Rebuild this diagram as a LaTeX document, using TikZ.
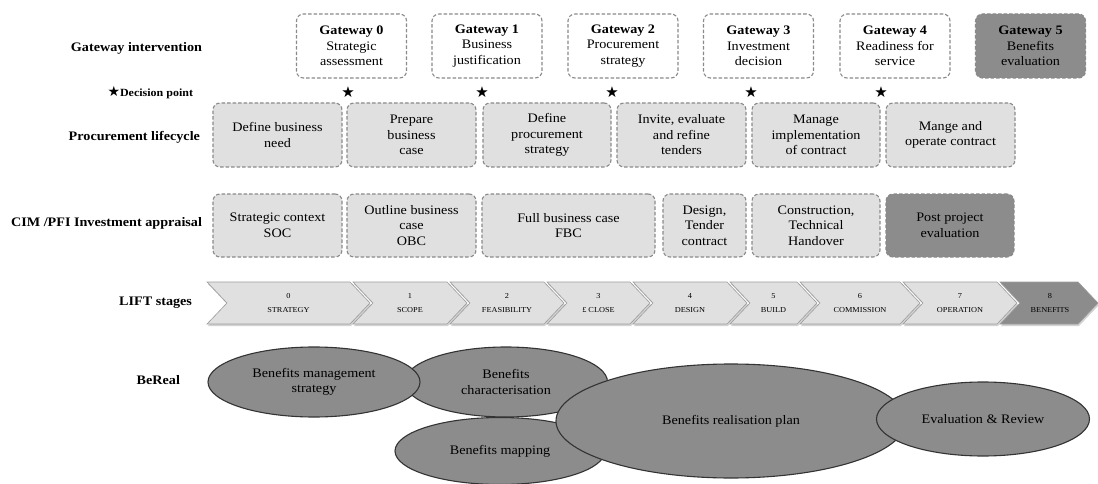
\documentclass[tikz,border=0pt]{standalone}
\usepackage{fontspec}
\setmainfont{Liberation Serif}[FakeStretch=1.09]
\newfontfamily\symfont{DejaVu Sans}
\usetikzlibrary{shapes.geometric,shadows}

\definecolor{lightfill}{HTML}{E0E0E0}
\definecolor{darkfill}{HTML}{8C8C8C}
\definecolor{dashgrey}{HTML}{8A8A8A}
\definecolor{ringline}{HTML}{333333}
\definecolor{chevline}{HTML}{9C9C9C}

\begin{document}
\begin{tikzpicture}[x=1pt,y=-1pt,
  every node/.style={inner sep=0pt, outer sep=0pt},
  txt/.style={font=\fontsize{13}{15.5}\selectfont, align=center},
  rowlabel/.style={font=\fontsize{13}{15.5}\selectfont\bfseries, anchor=east},
  stagebox/.style={txt, draw=dashgrey, line width=1.1pt, dash pattern=on 3.5pt off 2pt,
                   rounded corners=7pt},
  gatebox/.style={stagebox, fill=white, minimum width=110pt, minimum height=64pt},
  gatedark/.style={stagebox, fill=darkfill, minimum width=110pt, minimum height=64pt},
  procbox/.style={stagebox, fill=lightfill, minimum height=64pt},
  cimbox/.style={stagebox, fill=lightfill, minimum height=63pt},
  cimdark/.style={stagebox, fill=darkfill, minimum height=63pt},
  starmark/.style={font=\symfont\fontsize{15}{15}\selectfont},
  chev/.style={draw=chevline, line width=0.6pt, fill=lightfill,
               drop shadow={opacity=0.35, shadow xshift=1pt, shadow yshift=-2pt}},
  chevdark/.style={chev, fill=darkfill},
  chevtext/.style={font=\fontsize{7.6}{14}\selectfont, align=center},
  bubble/.style={txt, ellipse, draw=ringline, fill=darkfill, line width=1.1pt}
]
\useasboundingbox (0,0) rectangle (1098,484);
\fill[white] (0,0) rectangle (1098,484);

% row labels
\node[rowlabel] (lblgate) at (202,48) {Gateway intervention};
\node[anchor=east] (lbldec) at (193,93) {{\symfont\fontsize{14}{14}\selectfont ★}{\fontsize{11}{12}\selectfont\bfseries Decision point}};
\node[rowlabel] (lblproc) at (200,137) {Procurement lifecycle};
\node[rowlabel] (lblcim) at (202,223) {CIM /PFI Investment appraisal};
\node[rowlabel] (lbllift) at (192,303) {LIFT stages};
\node[rowlabel] (lblbe) at (180,380) {BeReal};

% gateway reviews
\node[gatebox] (g0) at (351.5,46) {\textbf{Gateway 0}\\Strategic\\assessment};
\node[gatebox] (g1) at (487,46) {\textbf{Gateway 1}\\Business\\justification};
\node[gatebox] (g2) at (623,46) {\textbf{Gateway 2}\\Procurement\\strategy};
\node[gatebox] (g3) at (758.5,46) {\textbf{Gateway 3}\\Investment\\decision};
\node[gatebox] (g4) at (895,46) {\textbf{Gateway 4}\\Readiness for\\service};
\node[gatedark] (g5) at (1030.5,46) {\textbf{Gateway 5}\\Benefits\\evaluation};

% decision points
\node[starmark] (d0) at (348,92) {★};
\node[starmark] (d1) at (482,92) {★};
\node[starmark] (d2) at (612,92) {★};
\node[starmark] (d3) at (751,92) {★};
\node[starmark] (d4) at (881,92) {★};

% procurement lifecycle
\node[procbox, minimum width=129pt] (p0) at (277.5,135) {Define business\\need};
\node[procbox, minimum width=129pt] (p1) at (411.5,135) {Prepare\\business\\case};
\node[procbox, minimum width=128pt] (p2) at (547,135) {Define\\procurement\\strategy};
\node[procbox, minimum width=129pt] (p3) at (681.5,135) {Invite, evaluate\\and refine\\tenders};
\node[procbox, minimum width=128pt] (p4) at (816,135) {Manage\\implementation\\of contract};
\node[procbox, minimum width=129pt] (p5) at (950.5,135) {Mange and\\operate contract};

% investment appraisal
\node[cimbox, minimum width=129pt] (c0) at (277.5,225.5) {Strategic context\\SOC};
\node[cimbox, minimum width=129pt] (c1) at (411.5,225.5) {Outline business\\case\\OBC};
\node[cimbox, minimum width=173pt] (c2) at (568.5,225.5) {Full business case\\FBC};
\node[cimbox, minimum width=83pt] (c3) at (704.5,225.5) {Design,\\Tender\\contract};
\node[cimbox, minimum width=128pt] (c4) at (816,225.5) {Construction,\\Technical\\Handover};
\node[cimdark, minimum width=128pt] (c5) at (950,225.5) {Post project\\evaluation};

% LIFT stage chevrons
\foreach \xa/\xb/\num/\lab in {207/350/0/STRATEGY, 353/447/1/SCOPE, 450/544/2/FEASIBILITY,
  547/630/3/£ CLOSE, 633/727/4/DESIGN, 730/797/5/BUILD, 800/900/6/COMMISSION,
  903/997/7/OPERATION} {
  \draw[chev] (\xa,282) -- (\xb,282) -- (\xb+20,303) -- (\xb,324) -- (\xa,324)
    -- (\xa+20,303) -- cycle;
  \node[chevtext] (lift\num) at ({(\xa+\xb)/2+10},303) {\num\\\lab};
}
\draw[chevdark] (1000,282) -- (1078,282) -- (1098,303) -- (1078,324) -- (1000,324)
  -- (1020,303) -- cycle;
\node[chevtext] (lift8) at (1050,303) {8\\BENEFITS};

% benefits realisation bubbles
\node[bubble, minimum width=203pt, minimum height=70pt] (bchar) at (506,382) {Benefits\\characterisation};
\node[bubble, minimum width=212pt, minimum height=70pt] (bmgmt) at (314,382) {Benefits management\\strategy};
\node[bubble, minimum width=210pt, minimum height=67pt] (bmap) at (500,451) {Benefits mapping};
\node[bubble, minimum width=350pt, minimum height=114pt] (bplan) at (731,421) {Benefits realisation plan};
\node[bubble, minimum width=213pt, minimum height=74pt] (beval) at (983,419) {Evaluation \& Review};
\end{tikzpicture}
\end{document}
